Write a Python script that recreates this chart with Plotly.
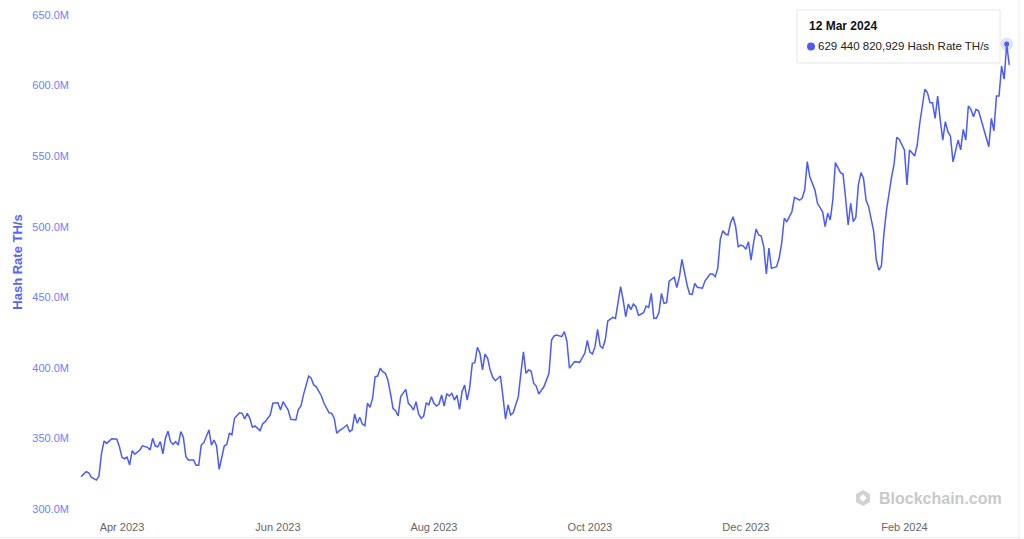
import plotly.graph_objects as go

dates = [
    "2023-03-16", "2023-03-18", "2023-03-19", "2023-03-20", "2023-03-22", "2023-03-23", "2023-03-24", "2023-03-25",
    "2023-03-26", "2023-03-28", "2023-03-30", "2023-03-31", "2023-04-01", "2023-04-02", "2023-04-03", "2023-04-04",
    "2023-04-05", "2023-04-06", "2023-04-08", "2023-04-09", "2023-04-11", "2023-04-12", "2023-04-13", "2023-04-14",
    "2023-04-15", "2023-04-16", "2023-04-17", "2023-04-18", "2023-04-19", "2023-04-20", "2023-04-21", "2023-04-22",
    "2023-04-23", "2023-04-24", "2023-04-25", "2023-04-26", "2023-04-27", "2023-04-29", "2023-04-30", "2023-05-01",
    "2023-05-02", "2023-05-03", "2023-05-05", "2023-05-06", "2023-05-07", "2023-05-08", "2023-05-09", "2023-05-10",
    "2023-05-11", "2023-05-12", "2023-05-13", "2023-05-14", "2023-05-15", "2023-05-17", "2023-05-18", "2023-05-19",
    "2023-05-20", "2023-05-21", "2023-05-22", "2023-05-23", "2023-05-25", "2023-05-26", "2023-05-27", "2023-05-29",
    "2023-05-30", "2023-06-01", "2023-06-02", "2023-06-03", "2023-06-04", "2023-06-05", "2023-06-06", "2023-06-07",
    "2023-06-08", "2023-06-09", "2023-06-10", "2023-06-11", "2023-06-13", "2023-06-14", "2023-06-15", "2023-06-16",
    "2023-06-18", "2023-06-19", "2023-06-21", "2023-06-22", "2023-06-23", "2023-06-24", "2023-06-25", "2023-06-26",
    "2023-06-28", "2023-06-29", "2023-06-30", "2023-07-01", "2023-07-02", "2023-07-03", "2023-07-04", "2023-07-05",
    "2023-07-06", "2023-07-07", "2023-07-08", "2023-07-09", "2023-07-10", "2023-07-11", "2023-07-12", "2023-07-13",
    "2023-07-14", "2023-07-15", "2023-07-16", "2023-07-17", "2023-07-18", "2023-07-19", "2023-07-20", "2023-07-21",
    "2023-07-22", "2023-07-23", "2023-07-24", "2023-07-25", "2023-07-26", "2023-07-27", "2023-07-28", "2023-07-29",
    "2023-07-30", "2023-07-31", "2023-08-01", "2023-08-02", "2023-08-03", "2023-08-04", "2023-08-05", "2023-08-06",
    "2023-08-07", "2023-08-08", "2023-08-09", "2023-08-10", "2023-08-11", "2023-08-12", "2023-08-13", "2023-08-14",
    "2023-08-15", "2023-08-16", "2023-08-17", "2023-08-18", "2023-08-19", "2023-08-20", "2023-08-21", "2023-08-22",
    "2023-08-23", "2023-08-24", "2023-08-25", "2023-08-26", "2023-08-27", "2023-08-28", "2023-08-29", "2023-08-30",
    "2023-08-31", "2023-09-01", "2023-09-02", "2023-09-03", "2023-09-04", "2023-09-05", "2023-09-06", "2023-09-07",
    "2023-09-08", "2023-09-09", "2023-09-10", "2023-09-11", "2023-09-13", "2023-09-15", "2023-09-16", "2023-09-17",
    "2023-09-18", "2023-09-20", "2023-09-21", "2023-09-22", "2023-09-23", "2023-09-25", "2023-09-27", "2023-09-29",
    "2023-09-30", "2023-10-01", "2023-10-02", "2023-10-03", "2023-10-04", "2023-10-05", "2023-10-06", "2023-10-07",
    "2023-10-08", "2023-10-10", "2023-10-11", "2023-10-13", "2023-10-14", "2023-10-15", "2023-10-16", "2023-10-17",
    "2023-10-18", "2023-10-19", "2023-10-20", "2023-10-22", "2023-10-23", "2023-10-24", "2023-10-25", "2023-10-26",
    "2023-10-27", "2023-10-28", "2023-10-29", "2023-10-30", "2023-10-31", "2023-11-01", "2023-11-03", "2023-11-04",
    "2023-11-05", "2023-11-06", "2023-11-08", "2023-11-09", "2023-11-10", "2023-11-11", "2023-11-12", "2023-11-14",
    "2023-11-15", "2023-11-17", "2023-11-18", "2023-11-19", "2023-11-20", "2023-11-21", "2023-11-22", "2023-11-23",
    "2023-11-24", "2023-11-25", "2023-11-26", "2023-11-27", "2023-11-28", "2023-11-29", "2023-11-30", "2023-12-01",
    "2023-12-02", "2023-12-03", "2023-12-04", "2023-12-05", "2023-12-06", "2023-12-07", "2023-12-08", "2023-12-09",
    "2023-12-10", "2023-12-11", "2023-12-13", "2023-12-14", "2023-12-15", "2023-12-16", "2023-12-17", "2023-12-19",
    "2023-12-20", "2023-12-22", "2023-12-23", "2023-12-24", "2023-12-25", "2023-12-26", "2023-12-28", "2023-12-29",
    "2023-12-31", "2024-01-01", "2024-01-02", "2024-01-03", "2024-01-04", "2024-01-05", "2024-01-07", "2024-01-08",
    "2024-01-09", "2024-01-10", "2024-01-11", "2024-01-12", "2024-01-13", "2024-01-14", "2024-01-15", "2024-01-16",
    "2024-01-17", "2024-01-18", "2024-01-20", "2024-01-21", "2024-01-22", "2024-01-23", "2024-01-24", "2024-01-25",
    "2024-01-27", "2024-01-28", "2024-01-29", "2024-01-30", "2024-02-01", "2024-02-02", "2024-02-03", "2024-02-05",
    "2024-02-06", "2024-02-07", "2024-02-09", "2024-02-10", "2024-02-11", "2024-02-12", "2024-02-13", "2024-02-14",
    "2024-02-15", "2024-02-16", "2024-02-17", "2024-02-18", "2024-02-19", "2024-02-20", "2024-02-22", "2024-02-23",
    "2024-02-24", "2024-02-25", "2024-02-26", "2024-02-27", "2024-02-28", "2024-02-29", "2024-03-01", "2024-03-02",
    "2024-03-04", "2024-03-05", "2024-03-06", "2024-03-07", "2024-03-08", "2024-03-09", "2024-03-10", "2024-03-11",
    "2024-03-12", "2024-03-13",
]

hash_rate_m = [
    322.9, 326.4, 325.7, 322.5, 320.5, 323.4, 339.5, 348.2,
    346.5, 349.8, 349.4, 344.1, 336.6, 335.6, 336.8, 331.2,
    341.3, 338.8, 341.8, 344.8, 343.7, 341.8, 350.1, 344.6,
    344.1, 347.7, 339.0, 350.1, 355.1, 347.7, 345.8, 347.7,
    345.3, 354.8, 350.8, 337.1, 334.7, 334.7, 331.0, 331.0,
    345.3, 347.0, 356.0, 345.3, 348.9, 344.6, 328.1, 337.1,
    344.6, 345.8, 353.6, 352.6, 364.3, 368.2, 367.8, 363.8,
    367.8, 364.3, 357.9, 358.8, 355.5, 360.2, 361.9, 366.6,
    374.9, 375.3, 370.1, 376.0, 372.5, 370.1, 363.6, 363.1,
    363.1, 370.6, 373.0, 381.0, 394.2, 392.6, 387.9, 386.6,
    380.1, 374.9, 368.2, 367.8, 364.3, 353.6, 355.5, 356.5,
    359.5, 354.8, 356.0, 367.3, 360.7, 365.0, 360.2, 359.0,
    374.9, 372.1, 378.4, 393.7, 394.2, 399.7, 397.3, 396.1,
    391.4, 382.0, 371.3, 369.6, 365.9, 379.6, 382.0, 384.8,
    374.9, 373.0, 370.1, 376.0, 367.3, 364.3, 365.9, 375.3,
    373.7, 379.6, 374.9, 373.0, 374.4, 380.8, 373.0, 381.5,
    380.1, 382.0, 377.2, 380.6, 370.6, 383.1, 387.9, 377.2,
    386.2, 403.2, 403.7, 414.6, 410.3, 398.5, 409.8, 406.8,
    398.5, 393.3, 390.9, 392.6, 394.2, 379.6, 363.6, 373.7,
    366.6, 368.2, 373.7, 379.6, 396.1, 411.4, 396.1, 398.5,
    397.8, 389.1, 387.1, 381.5, 386.6, 396.1, 419.7, 422.6,
    423.3, 422.1, 425.6, 419.0, 399.7, 404.4, 403.9, 410.3,
    419.4, 411.2, 409.8, 415.0, 427.3, 415.5, 413.9, 419.7,
    433.2, 435.8, 435.0, 457.5, 448.1, 436.2, 445.2, 441.3,
    445.2, 443.3, 437.1, 439.1, 443.8, 442.9, 452.8, 435.1,
    435.1, 439.2, 452.8, 445.7, 446.2, 461.5, 464.2, 456.9,
    464.4, 476.8, 458.7, 452.3, 452.1, 459.9, 457.1, 456.4,
    461.5, 466.5, 466.5, 464.6, 470.5, 491.1, 497.2, 494.8,
    494.1, 502.8, 507.1, 500.0, 485.8, 487.0, 486.3, 484.0,
    489.4, 476.4, 488.3, 498.4, 494.1, 493.4, 485.8, 466.5,
    484.9, 470.5, 471.7, 477.6, 488.3, 506.0, 503.6, 510.6,
    520.8, 518.9, 520.1, 526.0, 546.1, 535.4, 526.0, 516.6,
    510.6, 500.0, 509.5, 504.8, 518.9, 545.4, 538.3, 537.3,
    520.1, 501.2, 516.6, 503.6, 506.7, 529.6, 538.3, 534.3,
    518.9, 514.2, 496.5, 476.4, 469.3, 472.2, 495.3, 511.8,
    535.4, 544.9, 563.4, 561.9, 554.4, 529.6, 554.4, 550.1,
    557.9, 573.3, 597.4, 595.0, 587.9, 587.9, 576.8, 592.6,
    575.6, 561.4, 574.4, 567.3, 564.1, 545.9, 561.4, 554.4,
    569.0, 561.4, 585.5, 583.1, 577.9, 583.1, 582.1, 575.6,
    561.4, 556.7, 576.8, 568.0, 592.6, 592.6, 613.8, 604.5,
    629.440820929, 614.6,
]

y_tick_values_m = [300, 350, 400, 450, 500, 550, 600, 650]
y_tick_labels = ["300.0M", "350.0M", "400.0M", "450.0M", "500.0M", "550.0M", "600.0M", "650.0M"]
x_tick_dates = ["2023-04-01", "2023-06-01", "2023-08-01", "2023-10-01", "2023-12-01", "2024-02-01"]
x_tick_labels = ["Apr 2023", "Jun 2023", "Aug 2023", "Oct 2023", "Dec 2023", "Feb 2024"]

hover_date = "2024-03-12"
hover_label = "12 Mar 2024"
hover_value_text = "629 440 820,929"

values = [v * 1e6 for v in hash_rate_m]
hi = dates.index(hover_date)

LINE = "#4a5cf5"
FONT = "Liberation Sans, Arial, sans-serif"

# layout geometry (pixels)
W, H = 1024, 539
L, R, T, B = 80, 14, 15, 30
PW, PH = W - L - R, H - T - B


def px(x):
    return (x - L) / PW


def py(y):
    return (H - B - y) / PH


fig = go.Figure()
fig.add_trace(go.Scatter(
    x=dates, y=values, mode="lines",
    line=dict(color=LINE, width=1.5),
    hoverinfo="skip", showlegend=False,
))
fig.add_trace(go.Scatter(
    x=[dates[hi]], y=[values[hi]], mode="markers",
    marker=dict(size=13, color="rgba(74,92,245,0.18)", line=dict(width=0)),
    hoverinfo="skip", showlegend=False, cliponaxis=False,
))
fig.add_trace(go.Scatter(
    x=[dates[hi]], y=[values[hi]], mode="markers",
    marker=dict(size=5, color=LINE, line=dict(width=0)),
    hoverinfo="skip", showlegend=False, cliponaxis=False,
))

fig.update_layout(
    width=W, height=H,
    margin=dict(l=L, r=R, t=T, b=B, autoexpand=False),
    paper_bgcolor="white", plot_bgcolor="white",
    font=dict(family=FONT),
    hovermode=False,
    xaxis=dict(
        type="date",
        range=["2023-03-15 14:00", "2024-03-13 07:00"],
        tickvals=x_tick_dates, ticktext=x_tick_labels,
        showgrid=False, zeroline=False, showline=False, ticks="",
        ticklabelstandoff=10,
        tickfont=dict(size=11, color="#666666", family=FONT),
    ),
    yaxis=dict(
        range=[300e6, 650e6],
        tickvals=[v * 1e6 for v in y_tick_values_m], ticktext=y_tick_labels,
        showgrid=False, zeroline=False, showline=False, ticks="",
        ticklabelstandoff=10,
        tickfont=dict(size=11, color="#6f7ff5", family=FONT),
        title=dict(text="<b>Hash Rate TH/s</b>", font=dict(size=13, color="#5567f2", family=FONT), standoff=6),
    ),
    annotations=[
        dict(
            xref="paper", yref="paper", x=px(807), y=py(26),
            xanchor="left", yanchor="middle", showarrow=False, align="left",
            text=f"<b>{hover_label}</b>",
            font=dict(size=12, color="#111111", family=FONT),
        ),
        dict(
            xref="paper", yref="paper", x=px(816), y=py(46),
            xanchor="left", yanchor="middle", showarrow=False, align="left",
            text=f"{hover_value_text} Hash Rate TH/s",
            font=dict(size=11.5, color="#222222", family=FONT),
        ),
        dict(
            xref="paper", yref="paper", x=px(1004), y=py(498),
            xanchor="right", yanchor="middle", showarrow=False,
            text="<b>Blockchain.com</b>",
            font=dict(size=16, color="#c9c9c9", family=FONT),
        ),
    ],
    shapes=[
        # tooltip box
        dict(type="rect", xref="paper", yref="paper", layer="above",
             x0=px(797), x1=px(1000), y0=py(63), y1=py(10),
             fillcolor="rgba(255,255,255,0)", line=dict(color="#e6e6e6", width=1)),
        dict(type="circle", xref="paper", yref="paper",
             xsizemode="pixel", ysizemode="pixel", xanchor=px(811), yanchor=py(46.5),
             x0=-4, x1=4, y0=-4, y1=4,
             fillcolor=LINE, line=dict(width=0)),
        # watermark logo
        dict(type="path", xref="paper", yref="paper",
             xsizemode="pixel", ysizemode="pixel",
             xanchor=px(863), yanchor=py(498),
             path="M 0 8 L 7 4 L 7 -4 L 0 -8 L -7 -4 L -7 4 Z",
             fillcolor="#d2d2d2", line=dict(width=0)),
        dict(type="path", xref="paper", yref="paper",
             xsizemode="pixel", ysizemode="pixel",
             xanchor=px(863), yanchor=py(498),
             path="M 0 4 L 3.5 0 L 0 -4 L -3.5 0 Z",
             fillcolor="white", line=dict(width=0)),
        # page edges
        dict(type="line", xref="paper", yref="paper",
             x0=px(1019), x1=px(1019), y0=py(539), y1=py(0),
             line=dict(color="#ececec", width=1)),
        dict(type="line", xref="paper", yref="paper",
             x0=px(0), x1=px(1019), y0=py(537.5), y1=py(537.5),
             line=dict(color="#ececec", width=1)),
    ],
)

fig.write_html(
    "out.html",
    config={"displayModeBar": False, "staticPlot": True},
    post_script="document.body.style.margin='0';",
)
